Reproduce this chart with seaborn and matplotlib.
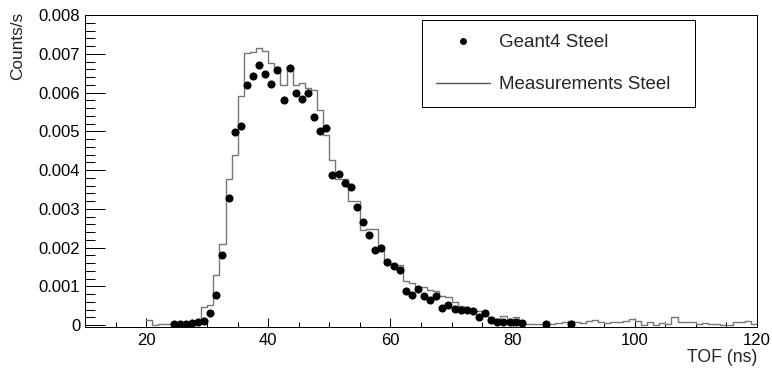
import numpy as np
import pandas as pd
import matplotlib
matplotlib.use("Agg")
import matplotlib.pyplot as plt
from matplotlib.lines import Line2D
from matplotlib.ticker import MultipleLocator, FuncFormatter
import seaborn as sns

# Measured TOF spectrum, 1 ns bins from 20 to 120 ns (counts/s per bin)
bin_edges = list(range(20, 121))
measured_rate = [
    0.00012, 0.00000, 0.00004, 0.00004, 0.00004, 0.00005, 0.00004, 0.00006, 0.00008, 0.00047,  # 20-29
    0.00052, 0.00129, 0.00209, 0.00378, 0.00439, 0.00591, 0.00701, 0.00704, 0.00716, 0.00707,  # 30-39
    0.00677, 0.00667, 0.00619, 0.00667, 0.00619, 0.00624, 0.00611, 0.00606, 0.00555, 0.00490,  # 40-49
    0.00426, 0.00378, 0.00378, 0.00321, 0.00321, 0.00245, 0.00247, 0.00247, 0.00190, 0.00165,  # 50-59
    0.00158, 0.00155, 0.00114, 0.00108, 0.00099, 0.00097, 0.00090, 0.00088, 0.00074, 0.00073,  # 60-69
    0.00060, 0.00050, 0.00042, 0.00040, 0.00035, 0.00030, 0.00020, 0.00015, 0.00023, 0.00012,  # 70-79
    0.00022, 0.00010, 0.00003, 0.00003, 0.00004, 0.00009, 0.00003, 0.00006, 0.00009, 0.00010,  # 80-89
    0.00008, 0.00005, 0.00011, 0.00012, 0.00007, 0.00006, 0.00007, 0.00008, 0.00010, 0.00015,  # 90-99
    0.00010, 0.00000, 0.00009, 0.00000, 0.00006, 0.00003, 0.00022, 0.00009, 0.00007, 0.00007,  # 100-109
    0.00004, 0.00005, 0.00003, 0.00002, 0.00000, 0.00000, 0.00009, 0.00008, 0.00010, 0.00003,  # 110-119
]

# Geant4 simulation, same binning (bin centres in ns, counts/s)
geant4_tof = [
    24.5, 25.5, 26.5, 27.5, 28.5, 29.5, 30.5, 31.5, 32.5, 33.5,
    34.5, 35.5, 36.5, 37.5, 38.5, 39.5, 40.5, 41.5, 42.5, 43.5,
    44.5, 45.5, 46.5, 47.5, 48.5, 49.5, 50.5, 51.5, 52.5, 53.5,
    54.5, 55.5, 56.5, 57.5, 58.5, 59.5, 60.5, 61.5, 62.5, 63.5,
    64.5, 65.5, 66.5, 67.5, 68.5, 69.5, 70.5, 71.5, 72.5, 73.5,
    74.5, 75.5, 76.5, 77.5, 78.5, 79.5, 80.5, 81.5, 85.5, 89.5,
]
geant4_rate = [
    0.00003, 0.00003, 0.00002, 0.00006, 0.00009, 0.00011, 0.00030, 0.00077, 0.00182, 0.00327,
    0.00499, 0.00514, 0.00619, 0.00643, 0.00671, 0.00647, 0.00622, 0.00658, 0.00581, 0.00662,
    0.00600, 0.00583, 0.00598, 0.00538, 0.00501, 0.00508, 0.00387, 0.00391, 0.00367, 0.00355,
    0.00304, 0.00265, 0.00232, 0.00194, 0.00198, 0.00163, 0.00153, 0.00143, 0.00089, 0.00077,
    0.00094, 0.00074, 0.00065, 0.00076, 0.00043, 0.00051, 0.00041, 0.00040, 0.00038, 0.00035,
    0.00021, 0.00031, 0.00014, 0.00009, 0.00008, 0.00007, 0.00007, 0.00006, 0.00004, 0.00004,
]

series_labels = ["Geant4 Steel", "Measurements Steel"]
x_ticks = [20, 40, 60, 80, 100, 120]

sns.set_style("ticks")
plt.rcParams["font.family"] = ["Liberation Sans", "DejaVu Sans"]

W, H = 772, 372
fig = plt.figure(figsize=(W / 100, H / 100), dpi=100)
ax = fig.add_axes([85 / W, 1 - 327 / H, 672 / W, 312 / H])

hist_color = "#777777"
centers = [(a + b) / 2 for a, b in zip(bin_edges[:-1], bin_edges[1:])]
hist_df = pd.DataFrame({"tof": centers, "rate": measured_rate})
sns.histplot(data=hist_df, x="tof", weights="rate", bins=bin_edges,
             element="step", fill=False, color=hist_color, linewidth=1.0, ax=ax)

sim_df = pd.DataFrame({"tof": geant4_tof, "rate": geant4_rate})
sns.scatterplot(data=sim_df, x="tof", y="rate", color="black", s=34,
                linewidth=0, zorder=3, legend=False, ax=ax)

ax.set_xlim(10, 120)
ax.set_ylim(-0.00005, 0.008)
ax.set_xlabel("")
ax.set_ylabel("")

ax.xaxis.set_major_locator(plt.FixedLocator(x_ticks))
ax.xaxis.set_minor_locator(MultipleLocator(5))
ax.yaxis.set_major_locator(MultipleLocator(0.001))
ax.yaxis.set_minor_locator(MultipleLocator(0.0002))
ax.yaxis.set_major_formatter(FuncFormatter(lambda v, p: "0" if abs(v) < 1e-9 else f"{v:.3f}"))

px = 0.72
ax.tick_params(axis="both", which="both", direction="in", color="black",
               width=px, labelsize=12, labelcolor="black")
ax.tick_params(axis="x", which="major", length=9.4 * px, pad=4.0)
ax.tick_params(axis="x", which="minor", length=4.7 * px)
ax.tick_params(axis="y", which="major", length=20 * px, pad=3.5)
ax.tick_params(axis="y", which="minor", length=10 * px)
for side in ["left", "bottom", "right", "top"]:
    ax.spines[side].set_visible(True)
    ax.spines[side].set_color("black")
    ax.spines[side].set_linewidth(px)

fig.text(18 / W, 1 - 12 / H, "Counts/s", rotation=90, ha="center", va="top", fontsize=12.4)
fig.text(757 / W, 1 - 358 / H, "TOF (ns)", ha="right", va="center", fontsize=12.7)

handles = [
    Line2D([], [], marker="o", ls="none", color="black", markersize=5, markeredgewidth=0),
    Line2D([], [], color="#555555", lw=1.0),
]
leg = ax.legend(handles, series_labels, loc="upper left",
                bbox_to_anchor=(422 / W, 1 - 104 / H, 273 / W, 84 / H),
                bbox_transform=fig.transFigure, mode="expand", borderaxespad=0,
                fontsize=13.5, handlelength=2.9, handletextpad=0.47, labelspacing=1.33,
                borderpad=0.75, fancybox=False, framealpha=1, edgecolor="black", numpoints=1)
leg.get_frame().set_linewidth(px)

fig.savefig("out.png", dpi=100)
